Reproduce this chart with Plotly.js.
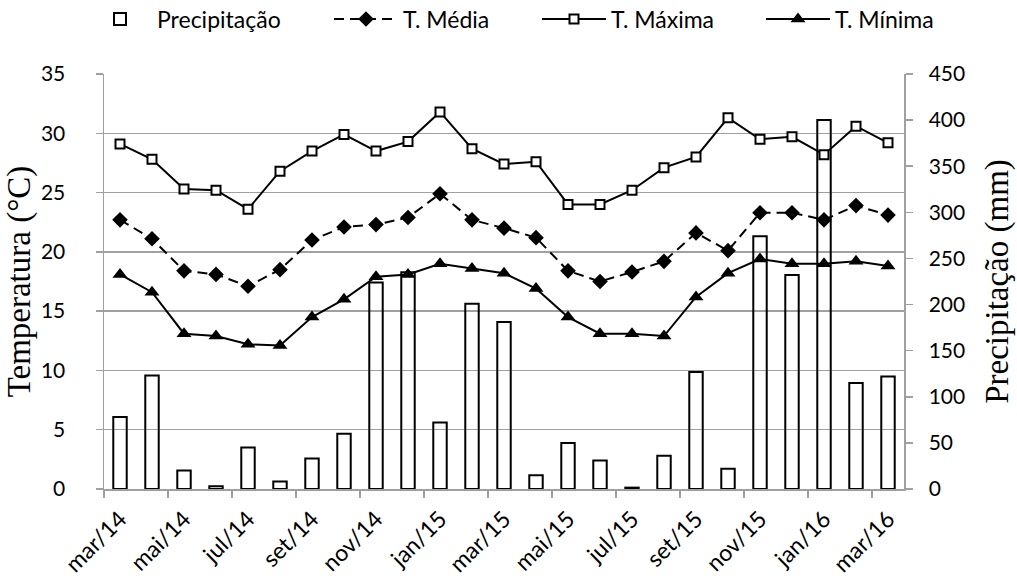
<!DOCTYPE html>
<html>
<head>
<meta charset="utf-8">
<script src="https://cdn.plot.ly/plotly-3.0.1.min.js"></script>
<style>html,body{margin:0;padding:0;background:#fff;}#chart{width:1017px;height:580px;}</style>
</head>
<body>
<div id="chart"></div>
<script>
var months = ['mar/14','abr/14','mai/14','jun/14','jul/14','ago/14','set/14','out/14','nov/14','dez/14',
  'jan/15','fev/15','mar/15','abr/15','mai/15','jun/15','jul/15','ago/15','set/15','out/15','nov/15','dez/15',
  'jan/16','fev/16','mar/16'];
var precipitacao = [78, 123, 20, 3, 45, 8, 33, 60, 224, 235, 72, 201, 181, 15, 50, 31, 1.5, 36, 127, 22, 274, 232, 400, 115, 122];
var tMedia  = [22.7, 21.1, 18.4, 18.1, 17.1, 18.5, 21.0, 22.1, 22.3, 22.9, 24.9, 22.7, 22.0, 21.2, 18.4, 17.5, 18.3, 19.2, 21.6, 20.1, 23.3, 23.3, 22.7, 23.9, 23.1];
var tMaxima = [29.1, 27.8, 25.3, 25.2, 23.6, 26.8, 28.5, 29.9, 28.5, 29.3, 31.8, 28.7, 27.4, 27.6, 24.0, 24.0, 25.2, 27.1, 28.0, 31.3, 29.5, 29.7, 28.2, 30.6, 29.2];
var tMinima = [18.1, 16.6, 13.1, 12.9, 12.2, 12.1, 14.5, 16.0, 17.9, 18.1, 19.0, 18.6, 18.2, 16.9, 14.5, 13.1, 13.1, 12.9, 16.2, 18.2, 19.4, 19.0, 19.0, 19.2, 18.8];

var grey = '#a0a0a0';
var tickFont = {family: 'Lato, sans-serif', size: 21, color: '#000'};
var xTickFont = {family: 'Lato, sans-serif', size: 23, color: '#000'};
var titleFont = {family: '"Liberation Serif", "Times New Roman", serif', size: 33, color: '#000'};
var legendFont = {family: 'Lato, sans-serif', size: 23, color: '#000'};

function legendAt(px) {
  return {orientation: 'h', xref: 'container', yref: 'container', x: px / 1017, y: 1 - 19 / 580,
    xanchor: 'left', yanchor: 'middle', itemwidth: 64, font: legendFont, bgcolor: 'rgba(0,0,0,0)', borderwidth: 0};
}

var traces = [
  {type: 'bar', name: 'Precipitação', x: months, y: precipitacao, xaxis: 'x', yaxis: 'y', legend: 'legend',
   marker: {color: 'rgba(0,0,0,0)', line: {color: '#000', width: 2}}},
  {type: 'scatter', mode: 'lines+markers', name: 'T. Média', x: months, y: tMedia, xaxis: 'x', yaxis: 'y2', legend: 'legend2',
   line: {color: '#000', width: 2, dash: '10px,6px'},
   marker: {symbol: 'diamond', size: 12, color: '#000'}},
  {type: 'scatter', mode: 'lines+markers', name: 'T. Máxima', x: months, y: tMaxima, xaxis: 'x', yaxis: 'y2', legend: 'legend3',
   line: {color: '#000', width: 2},
   marker: {symbol: 'square', size: 9, color: '#fff', line: {color: '#000', width: 2}}},
  {type: 'scatter', mode: 'lines+markers', name: 'T. Mínima', x: months, y: tMinima, xaxis: 'x', yaxis: 'y2', legend: 'legend4',
   line: {color: '#000', width: 2},
   marker: {symbol: 'triangle-up', size: 13, color: '#000'}}
];

var layout = {
  width: 1017, height: 580,
  margin: {l: 104, r: 113, t: 74, b: 91, pad: 0},
  paper_bgcolor: '#fff', plot_bgcolor: 'rgba(0,0,0,0)',
  showlegend: true,
  bargap: 0.58,
  legend: legendAt(83),
  legend2: legendAt(329),
  legend3: legendAt(537),
  legend4: legendAt(761),
  xaxis: {type: 'category', range: [-0.5, 24.5], tickmode: 'linear', tick0: 0, dtick: 2,
    tickson: 'boundaries', ticks: 'outside', ticklen: 7, tickwidth: 1.5, tickcolor: grey,
    showline: true, linecolor: grey, linewidth: 1.5, showgrid: false, zeroline: false,
    tickangle: -45, tickfont: xTickFont, ticklabelstandoff: 6, fixedrange: true},
  yaxis: {range: [0, 450], tickmode: 'linear', tick0: 0, dtick: 50, side: 'right',
    ticks: 'outside', ticklen: 7, tickwidth: 1.5, tickcolor: grey,
    showline: true, linecolor: grey, linewidth: 1.5, showgrid: false, zeroline: false,
    tickfont: tickFont, ticklabelstandoff: 12,
    title: {text: 'Precipitação (mm)', font: titleFont, standoff: 20}},
  yaxis2: {range: [0, 35], tickmode: 'linear', tick0: 0, dtick: 5, side: 'left', overlaying: 'y', anchor: 'x',
    ticks: 'outside', ticklen: 7, tickwidth: 1.5, tickcolor: grey,
    showline: true, linecolor: grey, linewidth: 1.5, showgrid: true, gridcolor: grey, gridwidth: 1.5, zeroline: false,
    tickfont: tickFont, ticklabelstandoff: 26,
    title: {text: 'Temperatura (°C)', font: titleFont, standoff: 0}}
};

Plotly.newPlot('chart', traces, layout, {staticPlot: true, displayModeBar: false});
</script>
</body>
</html>
